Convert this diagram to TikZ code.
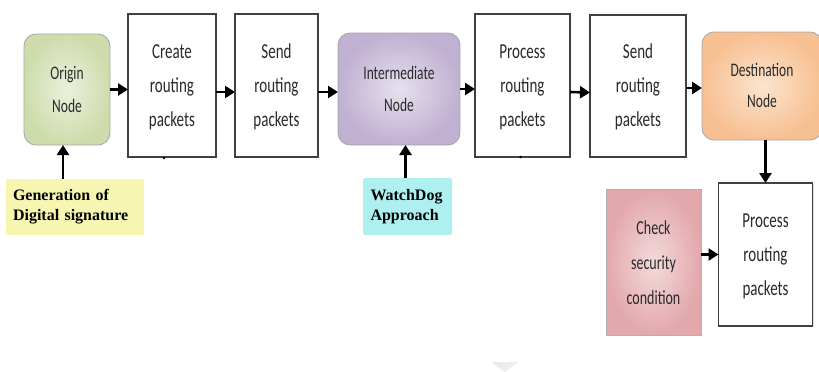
\documentclass[tikz,border=0pt]{standalone}
\usepackage{graphicx}
\usepackage{fontspec}
\setmainfont{Carlito}
\newfontfamily\tnr{Liberation Serif}
\usetikzlibrary{arrows.meta,shadings,shadows}
\newcommand\stx[3]{\scalebox{1}[1.42]{\fontsize{#1}{#2}\selectfont\begin{tabular}{@{}c@{}}#3\end{tabular}}}
\definecolor{txt}{HTML}{2A2A2A}
\tikzset{
  pbox/.style={draw=black!75, line width=1.4pt, fill=white, inner sep=0pt, outer sep=0pt,
    text=txt, drop shadow={shadow xshift=1pt, shadow yshift=-1pt, opacity=0.25}},
  rbox/.style={draw=black!35, line width=0.8pt, rounded corners=12pt, inner sep=0pt, outer sep=0pt, text=txt},
  lbl/.style={inner sep=0pt, outer sep=0pt, text=black, font=\tnr\bfseries\fontsize{16}{20}\selectfont, align=left},
  arr/.style={line width=2.6pt, draw=black, -{Triangle[length=10pt,width=12pt]}},
}
\begin{document}
\begin{tikzpicture}[x=1pt,y=-1pt]
\useasboundingbox (0,0) rectangle (819,372);
% faint chevron
\fill[black!12, opacity=0.6] (491,362) -- (518,362) -- (504.5,372) -- cycle;

\node[rbox, minimum width=86pt, minimum height=111pt, inner color={rgb,255:red,234;green,241;blue,220}, outer color={rgb,255:red,206;green,220;blue,172}] (origin) at (67,89.5) {\stx{13.5}{23}{Origin\\Node}};
\node[pbox, minimum width=88pt, minimum height=143pt] (create) at (172,85.5) {\stx{15}{24}{Create\\routing\\packets}};
\node[pbox, minimum width=83pt, minimum height=143pt] (send1) at (276.5,85.5) {\stx{15}{24}{Send\\routing\\packets}};
\node[rbox, minimum width=122pt, minimum height=112pt, inner color={rgb,255:red,230;green,224;blue,238}, outer color={rgb,255:red,192;green,176;blue,210}] (inter) at (399,89) {\stx{13.5}{23}{Intermediate\\Node}};
\node[pbox, minimum width=95pt, minimum height=143pt] (proc1) at (522.5,85.5) {\stx{15}{24}{Process\\routing\\packets}};
\node[pbox, minimum width=96pt, minimum height=142pt] (send2) at (638,86) {\stx{15}{24}{Send\\routing\\packets}};
\node[rbox, minimum width=120pt, minimum height=108pt, inner color={rgb,255:red,252;green,228;blue,206}, outer color={rgb,255:red,247;green,192;blue,146}] (dest) at (762,86) {\stx{13.5}{22}{Destination\\Node}};
\node[pbox, minimum width=94pt, minimum height=143pt] (proc3) at (765.5,254.5) {\stx{15}{24}{Process\\routing\\packets}};
\node[draw=black!30, line width=0.8pt, inner sep=0pt, outer sep=0pt, text=txt, minimum width=95pt, minimum height=146pt, inner color={rgb,255:red,244;green,218;blue,220}, outer color={rgb,255:red,226;green,168;blue,172}] (check) at (653.5,262.5) {\stx{14}{24.5}{Check\\security\\condition}};
\node[lbl, fill={rgb,255:red,246;green,246;blue,178}, minimum width=138pt, minimum height=56pt, text width=124pt] (gen) at (75,206.5) {Generation of\\Digital signature};
\node[lbl, fill={rgb,255:red,174;green,240;blue,240}, rounded corners=2pt, minimum width=89pt, minimum height=57pt, text width=74pt] (watch) at (407.5,206.5) {WatchDog\\Approach};

% tiny marks below boxes
\fill (create.south) ++(-8,1) circle (1.4pt);
\fill (proc1.south) ++(-2,0) circle (1.4pt);

\draw[arr] (origin) -- (origin -| create.west);
\draw[arr] ([yshift=-6.5pt]create.east) -- ([yshift=-6.5pt]send1.west);
\draw[arr] ([yshift=-6.5pt]send1.east) -- ([yshift=-6.5pt]send1.east -| inter.west);
\draw[arr] (inter) -- (inter -| proc1.west);
\draw[arr] ([yshift=-6.5pt]proc1.east) -- ([yshift=-6.5pt]send2.west);
\draw[arr] ([yshift=-2pt]send2.east) -- ([yshift=-2pt]send2.east -| dest.west);
\draw[arr] (proc3 |- dest.south) -- (proc3.north);
\draw[arr] (check.east |- proc3.west) -- (proc3.west);
\draw[arr] ([xshift=-4pt]gen.north -| origin) -- ([xshift=-4pt]origin.south);
\draw[arr] ([xshift=-2pt]watch.north) -- ([xshift=-2pt]watch.north |- inter.south);
\end{tikzpicture}
\end{document}
